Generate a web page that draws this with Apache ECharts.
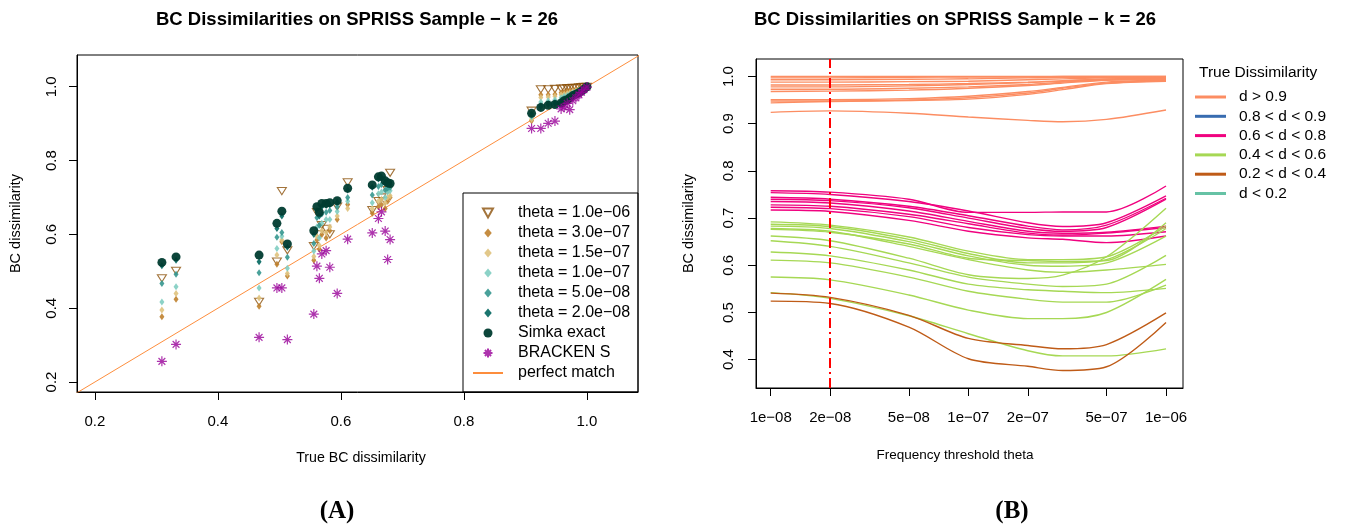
<!DOCTYPE html>
<html>
<head>
<meta charset="utf-8">
<script src="https://cdn.jsdelivr.net/npm/echarts@6.0.0/dist/echarts.min.js"></script>
<style>
html,body{margin:0;padding:0;background:#fff;}
#chart{width:1347px;height:531px;}
</style>
</head>
<body>
<div id="chart"></div>
<script>
// ===== Panel (A) data: estimated vs true BC dissimilarity =====
const trueBC     = [0.309,0.332,0.467,0.496,0.504,0.513,0.556,0.561,0.565,0.569,0.576,0.582,0.594,0.611,0.651,0.661,0.666,0.672,0.676,0.680,0.910,0.925,0.937,0.948,0.958,0.963,0.968,0.972,0.977,0.982,0.987,0.991,0.995,1.000];
const theta1e06  = [0.481,0.501,0.417,0.526,0.717,0.557,0.568,0.660,0.600,0.625,0.615,0.600,0.675,0.741,0.666,0.690,0.700,0.690,0.720,0.767,0.935,0.993,0.993,0.994,0.995,0.995,0.996,0.996,0.997,0.997,0.998,0.999,1.000,1.000];
const theta3e07  = [0.377,0.424,0.405,0.519,0.580,0.487,0.530,0.585,0.560,0.600,0.590,0.610,0.640,0.681,0.657,0.675,0.680,0.670,0.690,0.700,0.908,0.978,0.978,0.980,0.984,0.985,0.987,0.988,0.990,0.992,0.994,0.996,0.998,1.000];
const theta15e07 = [0.395,0.440,0.428,0.544,0.585,0.494,0.540,0.595,0.570,0.610,0.605,0.620,0.650,0.670,0.670,0.690,0.695,0.685,0.700,0.705,0.912,0.971,0.972,0.974,0.978,0.980,0.982,0.984,0.987,0.989,0.992,0.994,0.997,1.000];
const theta1e07  = [0.417,0.458,0.455,0.562,0.595,0.508,0.555,0.620,0.590,0.630,0.640,0.640,0.662,0.690,0.686,0.710,0.715,0.700,0.715,0.718,0.918,0.959,0.962,0.965,0.970,0.974,0.976,0.979,0.983,0.986,0.990,0.992,0.996,1.000];
const theta5e08  = [0.467,0.492,0.496,0.592,0.605,0.538,0.575,0.645,0.625,0.655,0.660,0.665,0.675,0.700,0.707,0.730,0.735,0.720,0.725,0.728,0.922,0.950,0.955,0.958,0.962,0.968,0.970,0.974,0.979,0.983,0.987,0.990,0.995,1.000];
const theta2e08  = [0.515,0.530,0.526,0.616,0.650,0.565,0.600,0.665,0.650,0.675,0.678,0.680,0.688,0.720,0.728,0.750,0.752,0.740,0.735,0.735,0.926,0.946,0.951,0.954,0.958,0.964,0.967,0.971,0.977,0.981,0.985,0.989,0.994,1.000];
const simkaExact = [0.524,0.539,0.544,0.630,0.663,0.574,0.610,0.675,0.660,0.684,0.684,0.686,0.691,0.725,0.734,0.756,0.758,0.745,0.740,0.738,0.928,0.944,0.950,0.952,0.956,0.962,0.965,0.970,0.976,0.980,0.984,0.988,0.993,1.000];
const brackenS   = [0.256,0.302,0.321,0.455,0.455,0.315,0.384,0.514,0.481,0.547,0.556,0.511,0.440,0.587,0.604,0.643,0.661,0.609,0.532,0.586,0.887,0.887,0.901,0.907,0.940,0.945,0.955,0.938,0.962,0.970,0.978,0.985,0.992,0.999];
const perfectMatch = [[0, 0], [1.2, 1.2]];
const xTicksA = [0.2, 0.4, 0.6, 0.8, 1.0];
const yTicksA = [0.2, 0.4, 0.6, 0.8, 1.0];
const namesA = ['theta = 1.0e−06','theta = 3.0e−07','theta = 1.5e−07','theta = 1.0e−07','theta = 5.0e−08','theta = 2.0e−08','Simka exact','BRACKEN S','perfect match'];

// ===== Panel (B) data: BC dissimilarity vs frequency threshold =====
const thetaGrid = [1e-8, 2e-8, 5e-8, 1e-7, 2e-7, 3e-7, 5e-7, 1e-6];
const thetaTicks = [1e-8, 2e-8, 5e-8, 1e-7, 2e-7, 5e-7, 1e-6];
const thetaTickLabels = ['1e−08','2e−08','5e−08','1e−07','2e−07','5e−07','1e−06'];
const yTicksB = [0.4, 0.5, 0.6, 0.7, 0.8, 0.9, 1.0];
const chosenTheta = 2e-8;
const catNames = ['d > 0.9','0.8 < d < 0.9','0.6 < d < 0.8','0.4 < d < 0.6','0.2 < d < 0.4','d < 0.2'];
const linesGt09 = [
  [1.000,1.000,1.000,1.000,1.000,1.000,1.000,1.000],
  [0.997,0.997,0.998,0.999,0.999,1.000,1.000,1.000],
  [0.993,0.993,0.994,0.995,0.997,0.998,0.998,0.999],
  [0.988,0.988,0.989,0.990,0.993,0.995,0.997,0.998],
  [0.982,0.982,0.983,0.985,0.988,0.991,0.995,0.997],
  [0.978,0.978,0.980,0.983,0.987,0.990,0.994,0.996],
  [0.973,0.973,0.975,0.978,0.983,0.988,0.993,0.995],
  [0.968,0.969,0.971,0.975,0.981,0.986,0.992,0.994],
  [0.951,0.951,0.953,0.958,0.968,0.977,0.988,0.992],
  [0.948,0.948,0.950,0.955,0.965,0.975,0.986,0.991],
  [0.944,0.947,0.949,0.952,0.962,0.972,0.985,0.990],
  [0.924,0.927,0.922,0.914,0.907,0.904,0.909,0.929]
];
const lines0809 = [];
const lines0608 = [
  [0.758,0.755,0.740,0.712,0.712,0.713,0.713,0.768],
  [0.754,0.750,0.735,0.715,0.690,0.682,0.690,0.747],
  [0.744,0.740,0.725,0.705,0.683,0.675,0.685,0.742],
  [0.740,0.737,0.722,0.700,0.678,0.672,0.680,0.740],
  [0.735,0.732,0.715,0.693,0.672,0.668,0.670,0.683],
  [0.728,0.725,0.708,0.688,0.668,0.664,0.668,0.680],
  [0.723,0.720,0.703,0.680,0.665,0.662,0.662,0.671],
  [0.717,0.714,0.695,0.672,0.658,0.655,0.648,0.662]
];
const lines0406 = [
  [0.692,0.685,0.660,0.630,0.612,0.612,0.618,0.683],
  [0.687,0.682,0.655,0.625,0.605,0.605,0.612,0.678],
  [0.683,0.678,0.650,0.620,0.600,0.598,0.605,0.662],
  [0.678,0.672,0.640,0.612,0.590,0.585,0.590,0.602],
  [0.676,0.670,0.645,0.615,0.610,0.608,0.610,0.690],
  [0.662,0.652,0.615,0.580,0.572,0.579,0.618,0.721],
  [0.652,0.640,0.605,0.575,0.560,0.555,0.560,0.621],
  [0.628,0.620,0.590,0.560,0.548,0.545,0.542,0.551],
  [0.611,0.605,0.575,0.545,0.528,0.522,0.522,0.558],
  [0.575,0.569,0.537,0.505,0.487,0.487,0.500,0.570],
  [0.542,0.530,0.493,0.455,0.419,0.408,0.408,0.423]
];
const lines0204 = [
  [0.541,0.532,0.494,0.445,0.430,0.423,0.432,0.499],
  [0.524,0.519,0.469,0.402,0.386,0.377,0.385,0.479]
];
const linesLt02 = [];

// ===== Build chart =====
const FONT = '"Liberation Sans", Arial, Helvetica, sans-serif';
const pairsA = arr => trueBC.map((x, i) => [x, arr[i]]);
const TRI = 'path://M0,0L10,0L5,9Z';
const STAR = 'path://M5,0L5,10M0,5L10,5M1.6,1.6L8.4,8.4M8.4,1.6L1.6,8.4';
const DIAMOND = 'path://M5,0L10,6L5,12L0,6Z';

const baseA = {xAxisIndex: 0, yAxisIndex: 0, silent: true, animation: false, emphasis: {disabled: true}, symbolKeepAspect: true};
const diamondSeries = (name, arr, color) => Object.assign({}, baseA, {
  name, type: 'scatter', data: pairsA(arr), symbol: DIAMOND, symbolSize: [6, 7],
  itemStyle: {color, opacity: 0.9}
});
const seriesA = [
  Object.assign({}, baseA, {name: namesA[0], type: 'scatter', data: pairsA(theta1e06), symbol: TRI, symbolSize: [9, 8],
    itemStyle: {color: 'rgba(0,0,0,0)', borderColor: '#8c510a', borderWidth: 1.1}}),
  diamondSeries(namesA[1], theta3e07, '#bf812d'),
  diamondSeries(namesA[2], theta15e07, '#dfc27d'),
  diamondSeries(namesA[3], theta1e07, '#80cdc1'),
  diamondSeries(namesA[4], theta5e08, '#35978f'),
  diamondSeries(namesA[5], theta2e08, '#01665e'),
  Object.assign({}, baseA, {name: namesA[6], type: 'scatter', data: pairsA(simkaExact), symbol: 'circle', symbolSize: 9,
    itemStyle: {color: '#003c30', opacity: 0.95}}),
  Object.assign({}, baseA, {name: namesA[7], type: 'scatter', data: pairsA(brackenS), symbol: STAR, symbolSize: 10,
    itemStyle: {color: 'rgba(0,0,0,0)', borderColor: '#990099', borderWidth: 1.2}}),
  Object.assign({}, baseA, {name: namesA[8], type: 'line', data: perfectMatch, symbol: 'none', z: 1,
    lineStyle: {color: '#fd8d3c', width: 1}, itemStyle: {color: '#fd8d3c'}})
];

const catColors = ['#fc8d62', '#386cb0', '#f0027f', '#a6d854', '#bf5b17', '#66c2a5'];
const catLines = [linesGt09, lines0809, lines0608, lines0406, lines0204, linesLt02];
const seriesB = [];
catLines.forEach((group, ci) => {
  const common = {name: catNames[ci], type: 'line', xAxisIndex: 1, yAxisIndex: 1, symbol: 'none', silent: true,
    animation: false, smooth: 0.3, emphasis: {disabled: true},
    lineStyle: {color: catColors[ci], width: 1.4}, itemStyle: {color: catColors[ci]}};
  if (group.length === 0) seriesB.push(Object.assign({}, common, {data: []}));
  group.forEach(vals => seriesB.push(Object.assign({}, common, {
    data: thetaGrid.map((t, i) => [Math.log10(t), vals[i]])
  })));
});
seriesB[seriesB.length - 1].markLine = {
  silent: true, animation: false, symbol: ['none', 'none'], label: {show: false},
  lineStyle: {color: '#ff0000', width: 2, type: [10, 4, 2, 4]},
  data: [{xAxis: Math.log10(chosenTheta)}]
};

const axisCommon = {
  axisLine: {show: true, onZero: false, lineStyle: {color: '#000', width: 1}},
  axisTick: {show: true, inside: false, length: 8, lineStyle: {color: '#000', width: 1}},
  splitLine: {show: false},
};
const tickLabelStyle = {color: '#000', fontSize: 15, fontFamily: FONT};
const centerText = (x, y, text, font, extra) => Object.assign({type: 'text', x, y, silent: true,
  style: {text, font, fill: '#000', align: 'center', verticalAlign: 'middle', textAlign: 'center', textVerticalAlign: 'middle'}}, extra || {});

const chart = echarts.init(document.getElementById('chart'), null, {renderer: 'canvas'});
chart.setOption({
  animation: false,
  backgroundColor: '#fff',
  grid: [
    {left: 77, top: 55, width: 561, height: 337, show: true, borderColor: '#000', borderWidth: 1, containLabel: false, outerBoundsMode: 'none'},
    {left: 756, top: 59, width: 427, height: 329, show: true, borderColor: '#000', borderWidth: 1, containLabel: false, outerBoundsMode: 'none'}
  ],
  xAxis: [
    Object.assign({}, axisCommon, {type: 'value', gridIndex: 0, min: 0.171, max: 1.083,
      axisTick: Object.assign({}, axisCommon.axisTick, {customValues: xTicksA}),
      axisLabel: Object.assign({}, tickLabelStyle, {customValues: xTicksA, margin: 22, formatter: v => v.toFixed(1)})}),
    Object.assign({}, axisCommon, {type: 'value', gridIndex: 1, min: -8.0744, max: -5.914,
      axisTick: Object.assign({}, axisCommon.axisTick, {customValues: thetaTicks.map(t => Math.log10(t))}),
      axisLabel: Object.assign({}, tickLabelStyle, {customValues: thetaTicks.map(t => Math.log10(t)), margin: 22,
        formatter: v => {
          let best = 0;
          thetaTicks.forEach((t, i) => { if (Math.abs(Math.log10(t) - v) < Math.abs(Math.log10(thetaTicks[best]) - v)) best = i; });
          return thetaTickLabels[best];
        }})})
  ],
  yAxis: [
    Object.assign({}, axisCommon, {type: 'value', gridIndex: 0, min: 0.173, max: 1.086,
      axisTick: Object.assign({}, axisCommon.axisTick, {customValues: yTicksA}),
      axisLabel: Object.assign({}, tickLabelStyle, {customValues: yTicksA, margin: 18, rotate: 90, formatter: v => v.toFixed(1)})}),
    Object.assign({}, axisCommon, {type: 'value', gridIndex: 1, min: 0.340, max: 1.037,
      axisTick: Object.assign({}, axisCommon.axisTick, {customValues: yTicksB}),
      axisLabel: Object.assign({}, tickLabelStyle, {customValues: yTicksB, margin: 20, rotate: 90, formatter: v => v.toFixed(1)})})
  ],
  legend: [
    {
      orient: 'vertical', left: 472, top: 205, padding: 0, itemGap: 4, itemWidth: 30, itemHeight: 9,
      selectedMode: false, symbolKeepAspect: true,
      data: namesA.map(n => n === 'perfect match' ? {name: n, itemStyle: {color: 'rgba(0,0,0,0)', borderColor: 'rgba(0,0,0,0)'}} : {name: n}),
      textStyle: {color: '#000', fontSize: 16, fontFamily: FONT, padding: [0, 0, 0, 10]}
    },
    {
      orient: 'vertical', left: 1195, top: 89, padding: 0, itemGap: 3.3, itemWidth: 31, itemHeight: 3,
      icon: 'rect', selectedMode: false,
      data: catNames,
      textStyle: {color: '#000', fontSize: 15.5, fontFamily: FONT, padding: [0, 0, 0, 8]}
    }
  ],
  graphic: [
    {type: 'rect', silent: true, shape: {x: 463, y: 193, width: 175, height: 199}, style: {fill: 'none', stroke: '#000', lineWidth: 1}, z: 0},
    centerText(357, 20, 'BC Dissimilarities on SPRISS Sample − k = 26', 'bold 18.5px ' + FONT),
    centerText(955, 20, 'BC Dissimilarities on SPRISS Sample − k = 26', 'bold 18.5px ' + FONT),
    centerText(361, 458, 'True BC dissimilarity', '14.2px ' + FONT),
    centerText(955, 455, 'Frequency threshold theta', '13.5px ' + FONT),
    centerText(16, 223.5, 'BC dissimilarity', '14.5px ' + FONT, {rotation: Math.PI / 2}),
    centerText(689, 223.5, 'BC dissimilarity', '14.5px ' + FONT, {rotation: Math.PI / 2}),
    {type: 'text', x: 1199, y: 73, silent: true, style: {text: 'True Dissimilarity', font: '15.5px ' + FONT, fill: '#000', align: 'left', verticalAlign: 'middle', textAlign: 'left', textVerticalAlign: 'middle'}},
    centerText(337, 512, '(A)', 'bold 25px "Liberation Serif", "DejaVu Serif", serif'),
    centerText(1012, 512, '(B)', 'bold 25px "Liberation Serif", "DejaVu Serif", serif')
  ],
  series: seriesA.concat(seriesB)
});
</script>
</body>
</html>
